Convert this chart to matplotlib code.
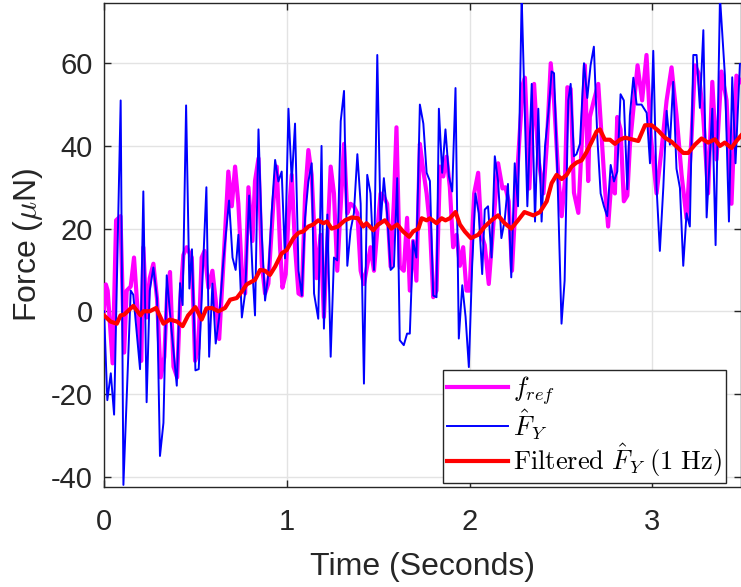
import numpy as np
import matplotlib
matplotlib.use("Agg")
import matplotlib.pyplot as plt

plt.rcParams['font.family'] = ['Liberation Sans', 'DejaVu Sans']
plt.rcParams['mathtext.fontset'] = 'cm'
plt.rcParams['axes.unicode_minus'] = False

# --- DATA ---

# f_ref (magenta)
t_ref = [0.000, 0.010, 0.020, 0.047, 0.066, 0.090, 0.110, 0.124, 0.146, 0.164,
         0.184, 0.204, 0.215, 0.233, 0.250, 0.270, 0.290, 0.310, 0.330, 0.345,
         0.361, 0.380, 0.400, 0.416, 0.434, 0.452, 0.480, 0.498, 0.516, 0.534,
         0.550, 0.571, 0.593, 0.611, 0.630, 0.653, 0.680, 0.699, 0.717, 0.735,
         0.757, 0.772, 0.790, 0.812, 0.826, 0.845, 0.863, 0.881, 0.899, 0.927,
         0.945, 0.963, 0.976, 0.994, 1.009, 1.027, 1.045, 1.064, 1.082, 1.100,
         1.118, 1.136, 1.163, 1.185, 1.203, 1.240, 1.258, 1.276, 1.295, 1.313,
         1.331, 1.349, 1.367, 1.386, 1.404, 1.422, 1.440, 1.458, 1.477, 1.495,
         1.513, 1.531, 1.549, 1.568, 1.586, 1.600, 1.618, 1.640, 1.658, 1.673,
         1.691, 1.709, 1.728, 1.747, 1.765, 1.783, 1.801, 1.819, 1.838, 1.856,
         1.874, 1.892, 1.910, 1.929, 1.947, 1.965, 1.983, 2.000, 2.025, 2.047,
         2.065, 2.083, 2.105, 2.123, 2.156, 2.180, 2.196, 2.214, 2.232, 2.256,
         2.274, 2.292, 2.303, 2.327, 2.353, 2.376, 2.404, 2.422, 2.444, 2.462,
         2.486, 2.504, 2.522, 2.535, 2.553, 2.571, 2.595, 2.613, 2.631, 2.649,
         2.658, 2.680, 2.704, 2.722, 2.740, 2.758, 2.777, 2.795, 2.808, 2.826,
         2.844, 2.863, 2.877, 2.919, 2.944, 2.968, 2.991, 3.023, 3.050, 3.078,
         3.105, 3.132, 3.160, 3.187, 3.215, 3.233, 3.254, 3.278, 3.305, 3.328,
         3.351, 3.378, 3.406, 3.433, 3.460, 3.485]
f_ref = [0, 6.5, 5, -12.6, 22, 23, -10, 5, 6, 13,
         0, -12, 15.5, -1.5, 8, 11.5, 3, -16, -11, 4.2,
         9.5, -13.4, -16, 2, 13.6, 15.5, 13, -12, -9, 13,
         14.6, 5.7, 9.8, 2.6, -6.7, 11.5, 33.8, 25.4, 35, 26,
         6.7, 4.3, 30, 17, 31.5, 37, 11.5, 4.3, 6.7, 26.6,
         35, 15.5, 5.7, 9, 22.7, 33, 15.5, 4.3, 3.8, 28,
         39, 33, 8, 18.5, -1.4, 35, 28.5, 9.8, 25.4, 40.5,
         23.7, 26, 25.4, 23.7, 9.8, 6.6, 11, 15.5, 9.8, 19.6,
         28.5, 27.7, 26, 10.8, 26.6, 44.5, 10.8, 9.8, 22.6, 5,
         17, 7.4, 40.5, 34, 28.5, 20.5, 3.4, 5, 35, 32.6,
         37.4, 30, 15.5, 18.5, 11, 15.5, 5, 5, 28.5, 33.5,
         18.5, 16, 6.6, 17, 35.8, 29.7, 30, 26.6, 9.8, 30,
         42.8, 55, 56.5, 29.7, 55, 37, 28.5, 40, 60, 51,
         32.3, 23, 31.7, 54.2, 53.8, 28.7, 23.8, 40, 59.5, 31.5,
         47, 51, 55, 42.6, 30, 20.5, 32.3, 28.5, 47, 44,
         26.6, 28, 40, 59.5, 51, 62, 42.6, 28.5, 39, 51,
         59, 47.5, 33, 22.5, 42.6, 59.5, 57.5, 47.4, 28.5, 55.5,
         36.7, 58, 51, 26, 57, 55.5]

# F_Y estimate (blue)
t_fy = [0.000, 0.018, 0.037, 0.055, 0.091, 0.106, 0.146, 0.160, 0.197, 0.215,
        0.233, 0.250, 0.270, 0.290, 0.306, 0.325, 0.343, 0.365, 0.398, 0.416,
        0.430, 0.449, 0.467, 0.481, 0.500, 0.518, 0.560, 0.575, 0.593, 0.611,
        0.630, 0.653, 0.684, 0.703, 0.720, 0.735, 0.754, 0.772, 0.794, 0.812,
        0.826, 0.845, 0.863, 0.881, 0.899, 0.917, 0.936, 0.954, 0.972, 0.990,
        1.009, 1.027, 1.045, 1.064, 1.082, 1.100, 1.118, 1.136, 1.149, 1.172,
        1.190, 1.203, 1.222, 1.240, 1.258, 1.276, 1.295, 1.313, 1.331, 1.349,
        1.367, 1.386, 1.404, 1.422, 1.440, 1.458, 1.477, 1.495, 1.513, 1.531,
        1.549, 1.568, 1.586, 1.604, 1.618, 1.640, 1.658, 1.673, 1.691, 1.709,
        1.728, 1.747, 1.765, 1.783, 1.801, 1.819, 1.832, 1.850, 1.868, 1.887,
        1.905, 1.923, 1.941, 1.960, 1.978, 1.996, 2.014, 2.032, 2.050, 2.069,
        2.083, 2.101, 2.120, 2.138, 2.156, 2.174, 2.192, 2.210, 2.228, 2.247,
        2.265, 2.285, 2.316, 2.340, 2.358, 2.376, 2.394, 2.413, 2.431, 2.449,
        2.462, 2.480, 2.503, 2.520, 2.540, 2.553, 2.571, 2.585, 2.604, 2.626,
        2.644, 2.662, 2.680, 2.699, 2.717, 2.735, 2.753, 2.772, 2.790, 2.808,
        2.826, 2.844, 2.863, 2.877, 2.896, 2.914, 2.941, 2.969, 2.987, 3.005,
        3.023, 3.041, 3.060, 3.078, 3.096, 3.114, 3.132, 3.151, 3.169, 3.187,
        3.205, 3.224, 3.242, 3.260, 3.279, 3.297, 3.328, 3.346, 3.370, 3.397,
        3.419, 3.437, 3.455, 3.479]
f_y = [0, -21.5, -15, -25, 51, -42, 5, 4, -14, 29,
       -22, 5, 10.6, 3, -35, -27, 8.7, -2.5, -18, 6.8,
       1.5, 49.8, 5.5, 15, -14.3, -14, 30, -11, 6.7, -7.8,
       -1.4, 12.3, 26.8, 13, 10, 18.5, -1.5, 4.4, 28, 9.8,
       -1, 44, 18.5, 2.6, 9, 23.7, 36.6, 31.4, 33.8, 12.8,
       49, 31.4, 45.4, 9.8, 3.8, 22.7, 31.4, 35.8, 4.3, -1.8,
       40, -4.2, 23.4, -11, 13, 12.3, 46, 53.3, 11, 19.6,
       23.7, 38, 26, -17.5, 33, 28.5, 10, 62, 21, 32.2,
       23.4, 10, 10.8, 32.2, -7, -8.2, -5.4, -5.4, 17, 13,
       50, 45.4, 33.5, 31.5, 3.8, 3.4, 49, 33.5, 44, 32.6,
       29, 54, -6.6, 6.3, -1.3, -13.5, 11, 28.5, 23.7, 9,
       24.6, 25.4, 13, 37.5, 31.4, 17.7, 22, 30.8, 8.2, 35.8,
       25.4, 76, 25.4, 55, 21.7, 49, 21.7, 40, 48, 58,
       57.6, 34, -3, 7.4, 51, 55, 37.5, 38, 40.5, 60,
       51.6, 59.5, 64, 42, 28.5, 25.4, 23, 35.4, 31.4, 33.8,
       52.5, 51, 29.5, 47.4, 56.5, 50, 50, 48, 35.8, 63,
       30, 14.6, 30, 48.5, 40.3, 55.5, 34.5, 29.8, 11, 23.7,
       20.5, 62, 62, 49.2, 68, 22.7, 49, 16, 76, 57,
       21.7, 56.6, 35.8, 59.8]

# Filtered F_Y, 1 Hz (red)
t_filt = [0.000, 0.036, 0.070, 0.090, 0.110, 0.160, 0.200, 0.215, 0.250, 0.285,
          0.325, 0.360, 0.400, 0.430, 0.460, 0.500, 0.534, 0.560, 0.590, 0.626,
          0.662, 0.690, 0.726, 0.754, 0.780, 0.826, 0.854, 0.881, 0.908, 0.936,
          0.972, 0.999, 1.036, 1.064, 1.090, 1.118, 1.145, 1.172, 1.200, 1.220,
          1.245, 1.280, 1.318, 1.355, 1.390, 1.418, 1.436, 1.473, 1.500, 1.536,
          1.572, 1.604, 1.636, 1.670, 1.691, 1.720, 1.738, 1.765, 1.783, 1.819,
          1.847, 1.868, 1.892, 1.923, 1.947, 1.974, 2.007, 2.047, 2.083, 2.120,
          2.156, 2.192, 2.228, 2.265, 2.300, 2.349, 2.385, 2.422, 2.449, 2.476,
          2.504, 2.531, 2.558, 2.586, 2.613, 2.640, 2.668, 2.695, 2.713, 2.740,
          2.768, 2.795, 2.822, 2.850, 2.887, 2.923, 2.960, 2.996, 3.032, 3.068,
          3.105, 3.141, 3.169, 3.196, 3.233, 3.269, 3.305, 3.342, 3.370, 3.396,
          3.433, 3.460, 3.485]
f_filt = [-1, -2.5, -3, -1, -0.8, 1.3, -1, 0, 0, 0.8,
          -3, -2, -2.5, -3.6, -1, 1, -2, 0.7, 0.8, 0,
          0.8, 2.8, 3.2, 4.8, 6.5, 7.6, 10, 9.8, 8.8, 10.8,
          14, 14.8, 17.7, 19, 19.3, 20.5, 21, 22, 21.3, 21.7,
          20, 20.5, 22, 22.7, 22.5, 20.5, 21.3, 19.6, 21, 22,
          20, 21, 19.3, 18, 19.3, 20, 22.5, 22, 22.5, 21.3,
          22.5, 22, 22.5, 24, 21, 19.3, 17.7, 18.5, 20.5, 22,
          23.2, 21.3, 20, 22, 24, 23.2, 24, 26.6, 31, 33,
          32, 33, 35, 36, 36.5, 38.5, 41, 43.5, 44, 41.5,
          41.5, 40.5, 41.5, 42, 41.6, 41.2, 45, 45, 43.7, 42,
          41, 39.5, 38.3, 38.3, 40.3, 41.8, 40.8, 41.6, 40, 40.8,
          39.5, 41.2, 42.5]

y_ticks = [-40, -20, 0, 20, 40, 60]
x_ticks = [0, 1, 2, 3]

# --- FIGURE ---
fig = plt.figure(figsize=(7.41, 5.87), dpi=100)
ax = fig.add_axes([0.1404, 0.1704, 0.8596, 0.824])

ax.plot(t_ref, f_ref, color='#FF00FF', lw=3.0, label=r'$f_{ref}$', zorder=3)
ax.plot(t_fy, f_y, color='#0000FF', lw=1.4, label=r'$\hat{F}_Y$', zorder=4)
ax.plot(t_filt, f_filt, color='#FF0000', lw=3.0,
        label=r'$\mathrm{Filtered}\ \hat{F}_Y\ \mathrm{(1\ Hz)}$', zorder=5)

ax.set_xlim(0, 3.485)
ax.set_ylim(-42.5, 74.5)
ax.set_xticks(x_ticks)
ax.set_yticks(y_ticks)

ax.grid(True, color='#e3e3e3', lw=1.0)
ax.set_axisbelow(True)
for s in ax.spines.values():
    s.set_color('#262626')
    s.set_linewidth(1.0)
ax.tick_params(direction='in', length=5, width=1.0, colors='#262626',
               labelsize=21, top=True, right=True)
ax.tick_params(axis='x', pad=15)
ax.tick_params(axis='y', pad=8)

ax.set_xlabel('Time (Seconds)', fontsize=23, color='#262626', labelpad=12)
ax.set_ylabel(r'Force ($\mu$N)', fontsize=23, color='#262626', labelpad=4)

leg = ax.legend(loc='lower right', bbox_to_anchor=(0.976, 0.008),
                borderaxespad=0, fontsize=19, frameon=True, fancybox=False,
                edgecolor='#262626', framealpha=1, handlelength=2.3,
                handletextpad=0.2, labelspacing=0.0, borderpad=0.15)
leg.get_frame().set_linewidth(1.0)

fig.savefig('out.png', dpi=100)
